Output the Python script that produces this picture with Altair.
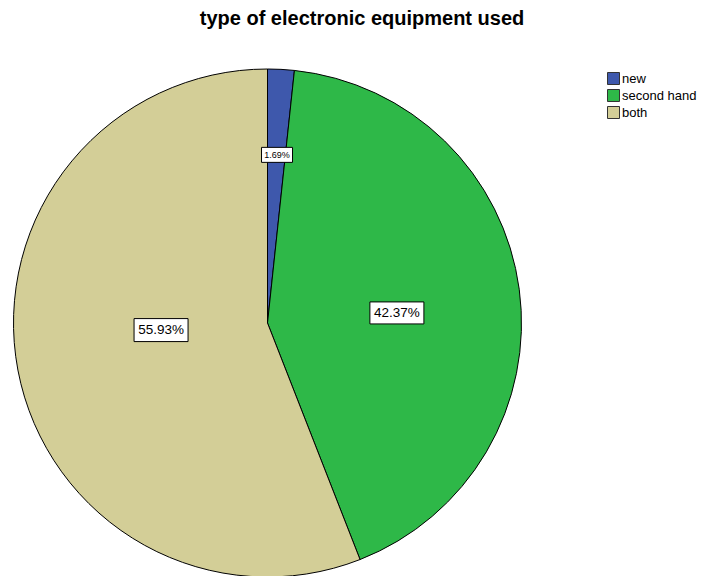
import altair as alt
import pandas as pd

# ---- data ----
categories = ["new", "second hand", "both"]
percents = [1.69, 42.37, 55.93]
labels = ["1.69%", "42.37%", "55.93%"]
title_text = "type of electronic equipment used"

# ---- styles ----
colors = ["#3E58AC", "#2EB848", "#D3CE97"]
label_radius_frac = [0.663, 0.511, 0.42]
label_angle_shift = [0.2, 3.2, 6.9]  # degrees
label_font = [9, 13.5, 13.5]
box_w = [31, 54, 54]
box_h = [15, 22, 23]

W, H = 690, 568
CX, CY, R = 259.5, 315, 254

df = pd.DataFrame({
    "category": categories,
    "percent": percents,
    "label": labels,
    "order": list(range(len(categories))),
    "rfrac": label_radius_frac,
    "ashift": label_angle_shift,
    "fs": label_font,
    "bw": box_w,
    "bh": box_h,
})

base = alt.Chart(df)

pie = base.mark_arc(radius=R, stroke="#000000", strokeWidth=1).encode(
    theta=alt.Theta("percent:Q", stack=True),
    order=alt.Order("order:Q"),
    color=alt.Color(
        "category:N",
        scale=alt.Scale(domain=categories, range=colors),
        sort=categories,
        legend=alt.Legend(
            title=None,
            orient="none",
            legendX=599,
            legendY=64,
            padding=0,
            symbolType="square",
            symbolSize=144,
            symbolStrokeColor="#333333",
            symbolStrokeWidth=1,
            symbolOpacity=1,
            labelFont="Liberation Sans",
            labelFontSize=13,
            labelColor="#000000",
            labelOffset=2,
            labelLimit=200,
            rowPadding=0,
        ),
    ),
    x=alt.value(CX),
    y=alt.value(CY),
)

lab = base.transform_window(
    cum="sum(percent)", sort=[alt.SortField("order")], frame=[None, 0]
).transform_calculate(
    ang="2*PI*(datum.cum - datum.percent/2)/100 + datum.ashift*PI/180",
).transform_calculate(
    lx=f"{CX} + {R}*datum.rfrac*sin(datum.ang)",
    ly=f"{CY} - {R}*datum.rfrac*cos(datum.ang)",
).transform_calculate(
    x0="datum.lx - datum.bw/2",
    x1="datum.lx + datum.bw/2",
    y0="datum.ly - datum.bh/2",
    y1="datum.ly + datum.bh/2",
)

boxes = lab.mark_rect(fill="white", stroke="#000000", strokeWidth=1).encode(
    x=alt.X("x0:Q", scale=None),
    x2="x1:Q",
    y=alt.Y("y0:Q", scale=None),
    y2="y1:Q",
)

texts = lab.mark_text(font="Liberation Sans", color="#000000", baseline="middle", align="center").encode(
    x=alt.X("lx:Q", scale=None),
    y=alt.Y("ly:Q", scale=None),
    text="label:N",
    size=alt.Size("fs:Q", scale=None, legend=None),
)

title = alt.Chart(pd.DataFrame({"t": [title_text]})).mark_text(
    font="Liberation Sans", fontSize=20, fontWeight="bold", color="#000000",
    baseline="middle", align="center",
).encode(text="t:N", x=alt.value(354), y=alt.value(11))

chart = alt.layer(pie, boxes, texts, title).properties(
    width=W, height=H,
    autosize=alt.AutoSizeParams(type="none"),
    padding=0,
).configure_view(stroke=None)

chart.save("out.html", embed_options={"renderer": "svg", "actions": False})
